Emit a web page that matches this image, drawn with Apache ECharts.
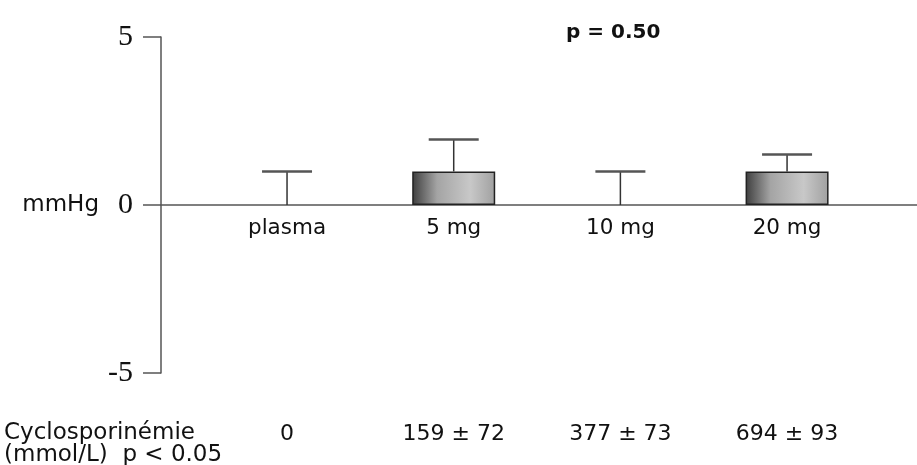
<!DOCTYPE html>
<html>
<head>
<meta charset="utf-8">
<script src="https://cdn.jsdelivr.net/npm/echarts@6/dist/echarts.min.js"></script>
<style>html,body{margin:0;padding:0;background:#fff}#c{width:917px;height:465px}</style>
</head>
<body>
<div id="c"></div>
<script>
var categories = ['plasma', '5 mg', '10 mg', '20 mg'];
var meanValues = [0, 1, 0, 1];
var errorValues = [1, 0.95, 1, 0.5];
var concentrationLabels = ['0', '159 ± 72', '377 ± 73', '694 ± 93'];
var yTicks = [-5, 0, 5];
var pTop = 'p = 0.50';
var rowTitle = 'Cyclosporinémie';
var rowSub = '(mmol/L)  p < 0.05';

var chart = echarts.init(document.getElementById('c'));
var sans = 'DejaVu Sans';
var axisCol = '#555';

var errData = categories.map(function (c, i) { return [i, meanValues[i], meanValues[i] + errorValues[i]]; });
var barData = meanValues.map(function (v) {
  return v === 0 ? { value: v, itemStyle: { borderWidth: 0 } } : v;
});

chart.setOption({
  animation: false,
  backgroundColor: '#fff',
  title: [
    { text: pTop, left: 561, top: 18, textStyle: { fontFamily: sans, fontWeight: 'bold', fontSize: 20, color: '#111' } }
  ],
  graphic: [
    { type: 'text', left: 4, top: 422, style: { text: rowTitle, font: '23px "DejaVu Sans"', fill: '#111' } },
    { type: 'text', left: 4, top: 444, style: { text: rowSub, font: '23px "DejaVu Sans"', fill: '#111' } }
  ],
  grid: [
    { left: 161, right: 0, top: 37, bottom: 92 },
    { left: 203.7, right: 46.6, top: 37, bottom: 92 },
    { left: 203.7, right: 46.6, top: 37, bottom: 260 }
  ],
  xAxis: [
    { gridIndex: 0, type: 'value', min: 0, max: 1,
      axisLine: { show: true, onZero: true, lineStyle: { color: axisCol, width: 1.5 } },
      axisTick: { show: false }, axisLabel: { show: false }, splitLine: { show: false } },
    { gridIndex: 1, type: 'category', data: concentrationLabels, position: 'bottom',
      axisLine: { show: false, onZero: false }, axisTick: { show: false },
      axisLabel: { margin: 50, fontFamily: sans, fontSize: 22, color: '#111' } },
    { gridIndex: 2, type: 'category', data: categories, position: 'bottom',
      axisLine: { show: false, onZero: false }, axisTick: { show: false },
      axisLabel: { margin: 12, fontFamily: sans, fontSize: 21.5, color: '#111' }, splitLine: { show: false } }
  ],
  yAxis: [
    { gridIndex: 0, type: 'value', min: -5, max: 5, interval: 5,
      name: 'mmHg', nameLocation: 'middle', nameRotate: 0, nameGap: 62,
      nameTextStyle: { fontFamily: sans, fontSize: 23, color: '#111', align: 'right' },
      axisLine: { show: true, onZero: false, lineStyle: { color: axisCol, width: 1.5 } },
      axisTick: { show: true, length: 18, lineStyle: { color: axisCol, width: 1.5 } },
      axisLabel: { margin: 28, fontFamily: 'Liberation Serif', fontSize: 30, color: '#111',
        formatter: function (v) { return yTicks.indexOf(v) >= 0 ? String(v) : ''; } },
      splitLine: { show: false } },
    { gridIndex: 1, type: 'value', min: -5, max: 5, show: false, splitLine: { show: false } },
    { gridIndex: 2, type: 'value', min: 0, max: 5, show: false, splitLine: { show: false } }
  ],
  series: [
    { type: 'bar', xAxisIndex: 1, yAxisIndex: 1, data: barData, barWidth: 83,
      itemStyle: {
        color: new echarts.graphic.LinearGradient(0, 0, 1, 0, [
          { offset: 0, color: '#3e3e3e' }, { offset: 0.3, color: '#a4a4a4' },
          { offset: 0.7, color: '#c8c8c8' }, { offset: 1, color: '#a0a0a0' }
        ]),
        borderColor: '#222', borderWidth: 1.5
      } },
    { type: 'custom', xAxisIndex: 1, yAxisIndex: 1, data: errData,
      renderItem: function (params, api) {
        var x = api.value(0);
        var base = api.coord([x, api.value(1)]);
        var top = api.coord([x, api.value(2)]);
        var hw = 25;
        return { type: 'group', children: [
          { type: 'line', shape: { x1: base[0], y1: base[1], x2: top[0], y2: top[1] }, style: { stroke: '#333', lineWidth: 1.5 } },
          { type: 'line', shape: { x1: top[0] - hw, y1: top[1], x2: top[0] + hw, y2: top[1] }, style: { stroke: '#555', lineWidth: 2.5 } }
        ] };
      } }
  ]
});
</script>
</body>
</html>
